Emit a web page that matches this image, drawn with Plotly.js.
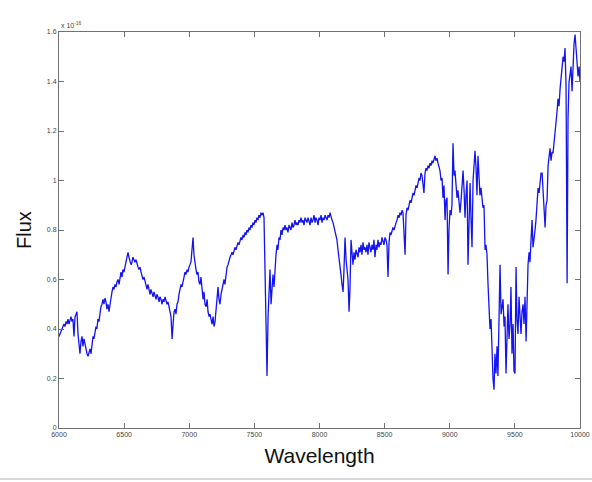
<!DOCTYPE html>
<html>
<head>
<meta charset="utf-8">
<script src="https://cdn.plot.ly/plotly-3.0.1.min.js"></script>
<style>html,body{margin:0;padding:0;background:#fff;}#chart{width:592px;height:482px;}</style>
</head>
<body>
<div id="chart"></div>
<script>
// Wavelength (Angstrom) and flux (units of 1e-16)
const wlA = [6000,6008,6015,6023,6031,6038,6046,6054,6061,6069,
 6077,6084,6092,6100,6107,6115,6123,6131,6138,6146,
 6154,6161,6169,6177,6184,6192,6200,6207,6215,6223,
 6230,6238,6246,6253,6261,6268,6276,6284,6291,6299,
 6307,6315,6322,6330,6338,6345,6353,6361,6368,6376,
 6384,6392,6399,6407,6415,6422,6430,6438,6445,6453,
 6461,6468,6476,6484,6491,6499];
const fxA = [0.37,0.38,0.39,0.40,0.41,0.42,0.41,0.43,0.42,0.44,
 0.42,0.43,0.45,0.43,0.44,0.37,0.45,0.46,0.47,0.38,
 0.34,0.30,0.35,0.37,0.33,0.36,0.34,0.31,0.30,0.29,
 0.31,0.32,0.30,0.34,0.37,0.36,0.38,0.41,0.40,0.44,
 0.43,0.47,0.49,0.50,0.52,0.50,0.525,0.51,0.48,0.50,
 0.47,0.50,0.53,0.55,0.57,0.56,0.58,0.57,0.59,0.60,
 0.58,0.61,0.63,0.61,0.64,0.63];

const wlB = [6507,6514,6522,6530,6537,6545,6553,6561,6568,6576,
 6584,6591,6599,6607,6614,6622,6630,6637,6645,6653,
 6660,6668,6676,6683,6691,6699,6706,6714,6722,6729,
 6737,6745,6752,6760,6768,6775,6783,6791,6798,6806,
 6814,6821,6829,6837,6845,6852,6860,6868,6875,6883,
 6891,6898,6906,6914,6921,6929,6937,6944,6952,6960,
 6967,6975,6983,6990,6998];
const fxB = [0.66,0.67,0.69,0.71,0.69,0.67,0.66,0.67,0.69,0.68,
 0.67,0.68,0.66,0.65,0.64,0.65,0.63,0.62,0.60,0.61,
 0.59,0.57,0.56,0.58,0.55,0.54,0.56,0.54,0.53,0.55,
 0.53,0.52,0.54,0.53,0.51,0.53,0.52,0.50,0.52,0.51,
 0.53,0.51,0.50,0.51,0.49,0.48,0.45,0.36,0.42,0.47,
 0.48,0.46,0.50,0.51,0.54,0.56,0.58,0.57,0.60,0.61,
 0.63,0.62,0.64,0.63,0.65];

const wlC = [7006,7013,7021,7029,7036,7044,7052,7059,7067,7075,
 7083,7090,7098,7106,7113,7121,7129,7137,7144,7152,
 7159,7167,7175,7183,7190,7198,7205,7213,7221,7228,
 7236,7244,7251,7259,7267,7274,7282,7290,7298,7305,
 7313,7321,7328,7336,7344,7351,7359,7367,7374,7382,
 7390,7397,7405,7413,7420,7428,7436,7443,7451,7459,
 7466,7474,7482,7489,7497];
const fxC = [0.66,0.67,0.72,0.77,0.70,0.66,0.64,0.62,0.63,0.59,
 0.58,0.61,0.55,0.52,0.55,0.50,0.49,0.52,0.47,0.45,
 0.46,0.44,0.42,0.45,0.41,0.43,0.48,0.55,0.57,0.52,
 0.50,0.54,0.56,0.58,0.60,0.58,0.62,0.65,0.66,0.68,
 0.69,0.70,0.71,0.70,0.72,0.73,0.72,0.74,0.75,0.74,
 0.76,0.77,0.76,0.78,0.77,0.79,0.78,0.80,0.79,0.81,
 0.80,0.82,0.81,0.83,0.82];

const wlD = [7505,7512,7520,7528,7535,7543,7551,7559,7566,7574,
 7582,7589,7597,7605,7612,7620,7628,7635,7643,7651,
 7658,7666,7674,7681,7689,7697,7704,7712,7720,7727,
 7735,7743,7750,7758,7766,7774,7781,7789,7797,7804,
 7812,7820,7827,7835,7843,7850,7858,7866,7873,7881,
 7889,7896,7904,7912,7919,7927,7935,7943,7950,7958,
 7966,7973,7981,7989,7996];
const fxD = [0.84,0.83,0.85,0.84,0.86,0.85,0.87,0.86,0.87,0.85,
 0.60,0.30,0.21,0.45,0.55,0.64,0.50,0.55,0.62,0.57,
 0.65,0.70,0.74,0.72,0.77,0.76,0.80,0.78,0.81,0.80,
 0.82,0.80,0.81,0.79,0.82,0.81,0.80,0.83,0.81,0.82,
 0.84,0.82,0.83,0.82,0.84,0.83,0.85,0.83,0.84,0.82,
 0.85,0.84,0.83,0.85,0.84,0.82,0.85,0.83,0.84,0.86,
 0.83,0.85,0.84,0.82,0.85];

const wlE = [8004,8012,8019,8027,8035,8043,8050,8058,8066,8073,
 8081,8089,8096,8104,8112,8119,8127,8134,8142,8150,
 8157,8165,8173,8181,8188,8196,8204,8211,8219,8227,
 8234,8242,8250,8257,8265,8273,8280,8288,8296,8303,
 8311,8319,8326,8334,8342,8349,8357,8365,8372,8380,
 8388,8395,8403,8411,8418,8426,8434,8441,8449,8457,
 8465,8472,8480,8488,8495];
const fxE = [0.84,0.86,0.83,0.85,0.84,0.86,0.85,0.84,0.86,0.85,
 0.87,0.85,0.84,0.83,0.81,0.80,0.78,0.76,0.72,0.69,
 0.66,0.62,0.58,0.55,0.64,0.77,0.68,0.62,0.60,0.47,
 0.56,0.76,0.70,0.66,0.71,0.68,0.72,0.70,0.69,0.73,
 0.71,0.74,0.70,0.75,0.72,0.73,0.71,0.74,0.70,0.75,
 0.73,0.71,0.74,0.72,0.76,0.69,0.74,0.72,0.76,0.73,
 0.75,0.74,0.77,0.75,0.74];

const wlF = [8503,8511,8518,8526,8534,8541,8549,8557,8564,8572,
 8580,8588,8595,8603,8611,8618,8626,8634,8641,8649,
 8657,8664,8672,8680,8687,8695,8703,8710,8718,8726,
 8733,8741,8749,8756,8764,8772,8779,8787,8795,8802,
 8810,8818,8825,8833,8841,8848,8856,8864,8871,8879,
 8887,8894,8902,8910,8917,8925,8933,8941,8948,8956,
 8964,8971,8979,8987,8994];
const fxF = [0.77,0.76,0.74,0.61,0.75,0.79,0.78,0.80,0.81,0.80,
 0.82,0.83,0.84,0.86,0.85,0.87,0.86,0.88,0.87,0.80,
 0.70,0.86,0.89,0.88,0.90,0.92,0.91,0.93,0.95,0.94,
 0.96,0.98,0.97,0.99,1.01,1.00,1.03,1.02,0.98,0.95,
 1.03,1.05,1.04,1.06,1.05,1.07,1.06,1.08,1.07,1.09,
 1.10,1.08,1.09,1.07,1.05,1.04,1.00,1.01,0.93,0.98,
 0.84,0.92,0.93,0.62,0.80];

const wlG = [9002,9010,9017,9025,9033,9040,9048,9056,9063,9071,
 9079,9087,9094,9102,9110,9117,9125,9133,9140,9148,
 9156,9163,9171,9179,9186,9194,9202,9209,9217,9225,
 9232,9240,9248,9255,9263,9271,9278,9286,9294,9301,
 9309,9317,9324,9332,9340,9347,9355,9363,9370,9378,
 9386,9394,9401,9409,9417,9424,9432,9440,9447,9455,
 9463,9470,9478,9486,9493];
const fxG = [0.88,0.86,0.90,1.15,1.02,1.04,0.97,0.93,0.96,0.91,
 0.87,0.92,0.98,1.04,0.96,0.85,0.94,1.00,0.66,0.90,
 0.99,0.85,0.73,1.00,1.06,1.12,1.05,0.94,1.10,1.02,
 0.94,0.97,0.93,0.89,0.90,0.72,0.74,0.70,0.58,0.50,
 0.40,0.44,0.32,0.20,0.155,0.30,0.22,0.33,0.21,0.40,
 0.66,0.46,0.49,0.52,0.41,0.45,0.22,0.40,0.50,0.36,
 0.42,0.57,0.30,0.42,0.23];

const wlH = [9501,9509,9516,9524,9532,9540,9547,9555,9563,9570,
 9578,9586,9593,9601,9609,9616,9624,9632,9639,9647,
 9655,9662,9670,9678,9686,9693,9701,9709,9716,9724,
 9732,9739,9747,9755,9762,9770,9778,9785,9793,9801,
 9808,9816,9824,9831,9839,9847,9855,9862,9870,9878,
 9885,9893,9901,9908,9916,9924,9931,9939,9947,9954,
 9962,9970,9977,9985,9993,10000];
const fxH = [0.22,0.65,0.44,0.38,0.53,0.45,0.38,0.47,0.50,0.42,
 0.53,0.35,0.57,0.66,0.71,0.67,0.76,0.84,0.73,0.76,
 0.80,0.84,0.93,0.97,0.95,1.00,1.03,1.03,0.96,0.88,
 0.81,0.90,0.92,1.06,1.10,1.13,1.08,1.115,1.11,1.15,
 1.20,1.24,1.28,1.33,1.30,1.37,1.42,1.45,1.50,1.48,
 1.535,1.38,0.585,1.25,1.40,1.43,1.46,1.36,1.50,1.55,
 1.59,1.54,1.48,1.42,1.46,1.40];

const xTicks = [6000,6500,7000,7500,8000,8500,9000,9500,10000];
const xTickText = ['6000','6500','7000','7500','8000','8500','9000','9500','10000'];
const yTicks = [0,0.2,0.4,0.6,0.8,1,1.2,1.4,1.6];
const yTickText = ['0','0.2','0.4','0.6','0.8','1','1.2','1.4','1.6'];

const wavelength = [].concat(wlA,wlB,wlC,wlD,wlE,wlF,wlG,wlH);
const flux = [].concat(fxA,fxB,fxC,fxD,fxE,fxF,fxG,fxH);

const axisCommon = {
  showgrid:false, zeroline:false, showline:true, linecolor:'#707070', linewidth:1,
  mirror:'ticks', ticks:'inside', ticklen:5, tickcolor:'#707070', tickwidth:1,
  tickfont:{family:'Liberation Sans, Arial, sans-serif', size:7, color:'#444'}
};

const layout = {
  width:592, height:482,
  margin:{l:59, r:12, t:32, b:54},
  paper_bgcolor:'#ffffff', plot_bgcolor:'#ffffff',
  showlegend:false,
  xaxis: Object.assign({}, axisCommon, {
    range:[6000,10000], tickvals:xTicks, ticktext:xTickText,
    title:{text:'Wavelength', font:{family:'Liberation Sans, Arial, sans-serif', size:21, color:'#111'}, standoff:10}
  }),
  yaxis: Object.assign({}, axisCommon, {
    range:[0,1.6], tickvals:yTicks, ticktext:yTickText,
    title:{text:'Flux', font:{family:'Liberation Sans, Arial, sans-serif', size:20, color:'#111'}, standoff:9}
  }),
  annotations:[{
    xref:'paper', yref:'paper', x:0, y:1, xanchor:'left', yanchor:'bottom', yshift:1,
    text:'x 10<sup>-16</sup>', showarrow:false,
    font:{family:'Liberation Sans, Arial, sans-serif', size:7, color:'#444'}
  }],
  shapes:[{
    type:'line', xref:'paper', yref:'paper',
    x0:-59/521, x1:533/521, y0:-51/396, y1:-51/396,
    line:{color:'#b0b0b0', width:1}
  }]
};

Plotly.newPlot('chart', [{
  type:'scatter', mode:'lines', x:wavelength, y:flux,
  line:{color:'#1414f0', width:1.3}, hoverinfo:'x+y'
}], layout, {displayModeBar:false, staticPlot:true});
</script>
</body>
</html>
